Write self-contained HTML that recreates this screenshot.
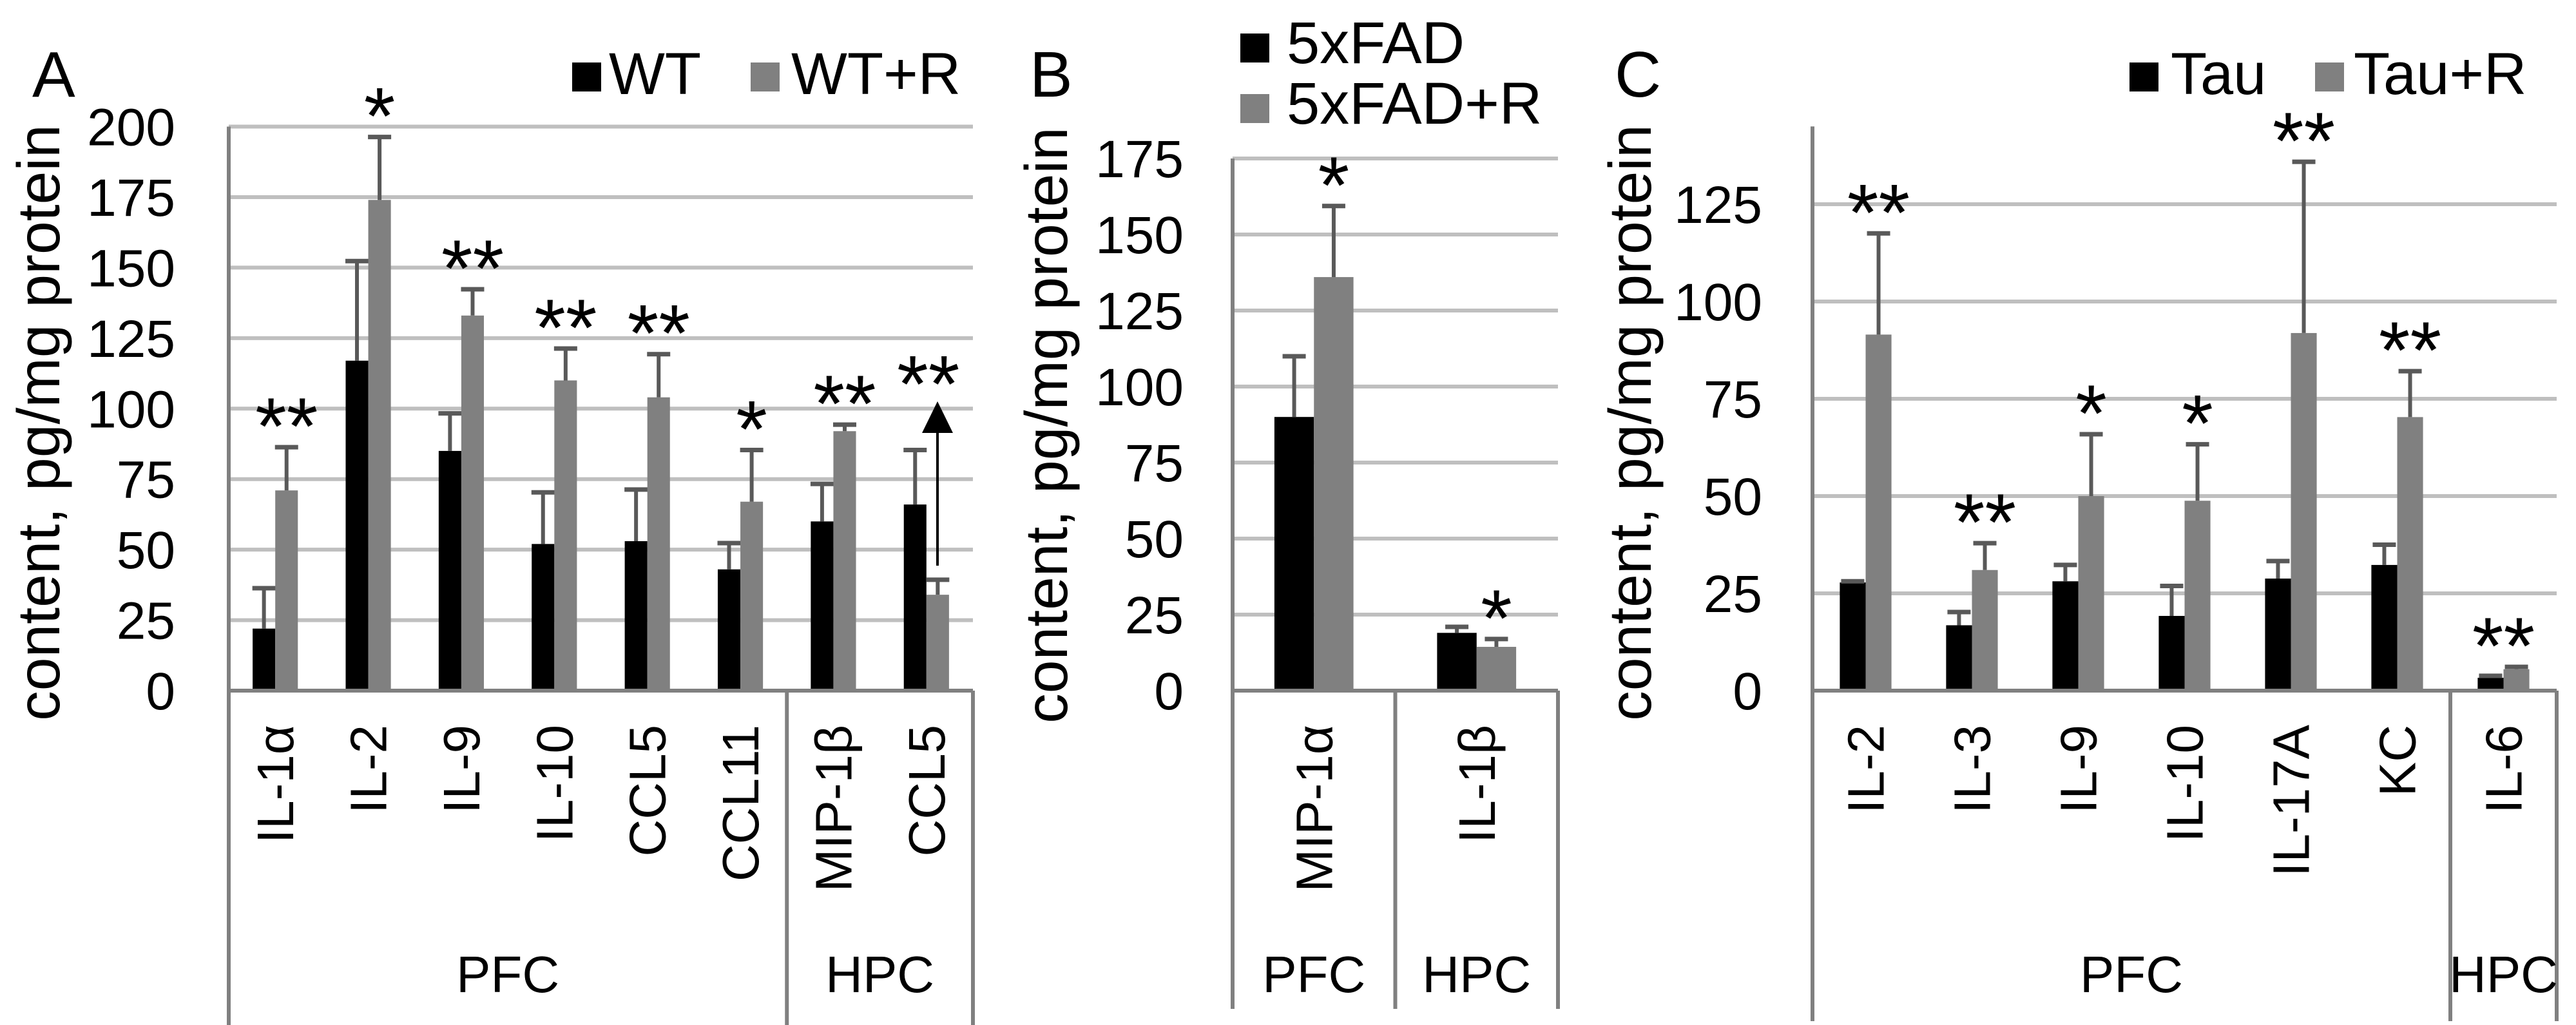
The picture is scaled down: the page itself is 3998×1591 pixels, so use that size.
<!DOCTYPE html>
<html><head><meta charset="utf-8"><style>
html,body{margin:0;padding:0;background:#fff}
svg{display:block}
text{font-family:"Liberation Sans",Arial,sans-serif}
</style></head>
<body>
<svg id="fig" width="3998" height="1591" viewBox="0 0 3998 1591" xmlns="http://www.w3.org/2000/svg">
<rect width="3998" height="1591" fill="#fff"/>
</svg>
<script>
// Panel A data
const catsA = ["IL-1α","IL-2","IL-9","IL-10","CCL5","CCL11","MIP-1β","CCL5"];
const wtA = [22,117,85,52,53,43,60,66];
const wtErrA = [37,153,99,71,72,53,74,86];
const wtrA = [71,174,133,110,104,67,92,34];
const wtrErrA = [87,197,143,122,120,86,95,40];
const starsA = ["**","*","**","**","**","*","**","**"];
const starAtA = [87,197,143,122,120,86,95,102];
const ticksA = [0,25,50,75,100,125,150,175,200];
const groupsA = [["PFC",6],["HPC",2]];
// Panel B data
const catsB = ["MIP-1α","IL-1β"];
const fadB = [90,19];
const fadErrB = [110.6,21.6];
const fadrB = [136,14.4];
const fadrErrB = [160,17.6];
const starsB = ["*","*"];
const starAtB = [160,17.6];
const ticksB = [0,25,50,75,100,125,150,175];
const groupsB = [["PFC",1],["HPC",1]];
// Panel C data
const catsC = ["IL-2","IL-3","IL-9","IL-10","IL-17A","KC","IL-6"];
const tauC = [27.8,16.8,28.1,19.2,28.8,32.3,3.3];
const tauErrC = [28.6,20.7,32.8,27.4,33.8,38,4.3];
const taurC = [91.5,31,50,48.8,91.9,70.3,5.5];
const taurErrC = [118,38.4,66.4,63.8,136.4,82.6,6.6];
const starsC = ["**","**","*","*","**","**","**"];
const starAtC = [118,38.4,66.4,63.8,136.4,82.6,6.6];
const ticksC = [0,25,50,75,100,125];
const groupsC = [["PFC",6],["HPC",1]];

const NS="http://www.w3.org/2000/svg";
const svg=document.getElementById('fig');
function mk(tag,attrs,txt){const e=document.createElementNS(NS,tag);for(const k in attrs)e.setAttribute(k,attrs[k]);if(txt!==undefined)e.textContent=txt;svg.appendChild(e);return e;}

function panel(p){
  const y=v=>p.y0-v*p.ppu;
  const bw=(p.x1-p.x0)/p.cats.length;
  const barW=bw*0.243;
  p.ticks.forEach(t=>{
    if(t>0){const g=mk('line',{x1:p.x0,x2:p.x1,y1:y(t),y2:y(t),stroke:'#bfbfbf','stroke-width':6});
      
      }
    const tl=mk('text',{x:p.tickX,y:y(t)+29,'text-anchor':'end','font-size':82,fill:'#000'},String(t));
    
    
  });
  p.cats.forEach((c,i)=>{
    const cx=p.x0+bw*(i+0.5);
    const s1=[[p.s1,p.e1,'#000',cx-barW],[p.s2,p.e2,'#808080',cx]];
    s1.forEach(([vals,errs,col,bx],k)=>{
      const r=mk('rect',{x:bx,y:y(vals[i]),width:barW,height:vals[i]*p.ppu,fill:col});
      
      
      const ex=bx+barW/2;
      const el=mk('line',{x1:ex,x2:ex,y1:y(vals[i]),y2:y(errs[i]),stroke:'#595959','stroke-width':6});
      
      
      mk('line',{x1:ex-18,x2:ex+18,y1:y(errs[i])+3,y2:y(errs[i])+3,stroke:'#595959','stroke-width':7});
    });
    const sx=(p.id==='c'&&i===6)?cx:(p.id==='a'&&i===7)?cx+3:cx+barW/2;
    const st=mk('text',{x:sx,y:y(p.starAt[i])+14,'text-anchor':'middle','font-size':125,fill:'#000'},p.stars[i]);
    
    
    const lab=mk('text',{x:0,y:0,'text-anchor':'end','font-size':80,fill:'#000',transform:`translate(${cx+28},1125) rotate(-90)`},c);
    
    
  });
  const ya=mk('line',{x1:p.x0,x2:p.x0,y1:y(p.axisTop),y2:p.bottom,stroke:'#808080','stroke-width':6});
  
  
  const xa=mk('line',{x1:p.x0,x2:p.x1,y1:p.y0,y2:p.y0,stroke:'#808080','stroke-width':6});
  
  
  let acc=0;
  p.groups.forEach(([g,n],gi)=>{
    const gx0=p.x0+acc*bw; acc+=n; const gx1=p.x0+acc*bw;
    mk('line',{x1:gx1,x2:gx1,y1:p.y0,y2:p.bottom,stroke:'#808080','stroke-width':6});
    const gt=mk('text',{x:(gx0+gx1)/2,y:1540,'text-anchor':'middle','font-size':80,fill:'#000'},g);
    
    
  });
  const tt=mk('text',{x:0,y:0,'text-anchor':'middle','font-size':93,fill:'#000',transform:`translate(${p.titleX},${p.titleY}) rotate(-90)`},'content,  pg/mg protein');
  
  
  const pl=mk('text',{x:p.letterX,y:150,'font-size':100,fill:'#000'},p.letter);
  
  
  return y;
}

panel({id:'a',letter:'A',letterX:50,x0:355,x1:1510,y0:1072,ppu:4.3775,cats:catsA,s1:wtA,e1:wtErrA,s2:wtrA,e2:wtrErrA,stars:starsA,starAt:starAtA,ticks:ticksA,axisTop:200,groups:groupsA,bottom:1591,tickX:272,titleX:92,titleY:656});
panel({id:'b',letter:'B',letterX:1598,x0:1913,x1:2418,y0:1072,ppu:4.72,cats:catsB,s1:fadB,e1:fadErrB,s2:fadrB,e2:fadrErrB,stars:starsB,starAt:starAtB,ticks:ticksB,axisTop:175,groups:groupsB,bottom:1566,tickX:1837,titleX:1656,titleY:660});
panel({id:'c',letter:'C',letterX:2506,x0:2813,x1:3968,y0:1072,ppu:6.04,cats:catsC,s1:tauC,e1:tauErrC,s2:taurC,e2:taurErrC,stars:starsC,starAt:starAtC,ticks:ticksC,axisTop:145,groups:groupsC,bottom:1585,tickX:2735,titleX:2562,titleY:656});

const arr=mk('line',{x1:1455,x2:1455,y1:878,y2:668,stroke:'#000','stroke-width':4});


const ah=mk('polygon',{points:'1455,623 1431,672 1479,672',fill:'#000'});



function legend(id,items){
  items.forEach(([x,y,col,label,tx,by],i)=>{
    const r=mk('rect',{x:x,y:y,width:45,height:45,fill:col});
    
    
    const t=mk('text',{x:tx,y:by,'font-size':92,fill:'#000'},label);
    
    
  });
}
legend('a',[[888,97,'#000','WT',945,146],[1165,97,'#808080','WT+R',1228,146]]);
legend('b',[[1925,52,'#000','5xFAD',1997,98],[1925,146,'#808080','5xFAD+R',1997,192]]);
legend('c',[[3305,97,'#000','Tau',3369,146],[3593,97,'#808080','Tau+R',3653,146]]);
</script>
</body></html>
